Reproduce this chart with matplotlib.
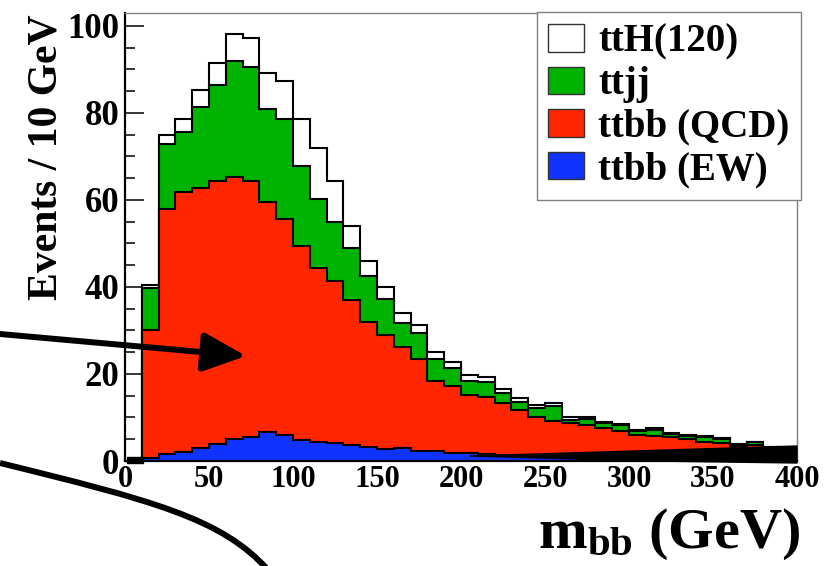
import matplotlib
matplotlib.use('Agg')
import matplotlib.pyplot as plt
import numpy as np
from matplotlib.patches import Patch, FancyArrowPatch, PathPatch, Polygon
from matplotlib.path import Path

plt.rcParams['font.family'] = ['Liberation Serif', 'DejaVu Serif']
plt.rcParams['font.weight'] = 'bold'
plt.rcParams['mathtext.fontset'] = 'custom'
plt.rcParams['mathtext.rm'] = 'Liberation Serif:bold'
plt.rcParams['mathtext.it'] = 'Liberation Serif:bold'
plt.rcParams['mathtext.bf'] = 'Liberation Serif:bold'

# m_bb bins, 10 GeV wide, from 10 to 400 GeV
bin_edges = np.arange(10, 401, 10)

# per-process contributions (events / 10 GeV)
ttbb_ew = [0.8, 1.6, 2.0, 3.1, 3.9, 5.0, 5.4, 6.6, 6.0, 4.8,
           4.4, 4.2, 3.7, 3.3, 2.7, 2.9, 2.3, 2.3, 1.8, 1.9,
           1.5, 1.4, 1.0, 0.9, 0.9, 0.7, 0.5, 0.6, 0.3, 0.3,
           0.3, 0.2, 0.2, 0.2, 0.2, 0.1, 0.1, 0.1, 0.1]
ttbb_qcd = [29.3, 56.4, 59.8, 59.7, 60.5, 60.3, 59.0, 52.8, 49.6, 44.7,
            39.9, 37.2, 33.2, 28.6, 26.3, 23.4, 21.1, 16.1, 15.5, 13.3,
            13.3, 11.9, 10.7, 9.1, 8.3, 8.1, 7.8, 6.9, 6.6, 5.7,
            5.4, 5.2, 4.8, 4.2, 4.0, 3.2, 3.5, 3.0, 2.5]
ttjj = [9.6, 14.9, 13.7, 18.5, 22.0, 26.5, 26.2, 21.5, 22.9, 18.2,
        15.9, 13.6, 12.0, 10.7, 8.2, 5.4, 6.0, 5.0, 4.1, 3.2,
        3.3, 2.4, 1.9, 2.1, 3.4, 0.6, 1.3, 1.2, 1.4, 0.9,
        1.4, 0.8, 0.8, 1.2, 0.8, 0.4, 0.7, 0.1, 0.2]
tth120 = [0.7, 2.0, 3.0, 4.0, 5.0, 6.3, 6.7, 8.2, 8.7, 10.8,
          11.7, 9.4, 5.0, 3.4, 2.7, 2.3, 1.9, 1.7, 1.4, 1.4,
          1.3, 0.8, 0.9, 0.8, 0.8, 0.6, 0.6, 0.3, 0.2, 0.2,
          0.4, 0.3, 0.2, 0.1, 0.2, 0.1, 0.1, 0.1, 0.1]

labels = ['ttH(120)', 'ttjj', 'ttbb (QCD)', 'ttbb (EW)']
colors = ['white', '#00b300', '#ff2600', '#1133ff']

W, H = 827, 566
fig = plt.figure(figsize=(W / 100, H / 100), dpi=100)


def fig_xy(x, y):
    # image pixel (y down) -> figure fraction
    return (x / W, 1 - y / H)


ax = fig.add_axes([125 / W, 1 - 461 / H, (797 - 125) / W, (461 - 12.7) / H])

# stacked histogram, drawn as cumulative layers from the top down
layers = [ttbb_ew, ttbb_qcd, ttjj, tth120]
cumulative = np.cumsum(np.array(layers), axis=0)
for i in range(len(layers) - 1, -1, -1):
    ax.stairs(cumulative[i], bin_edges, fill=True,
              facecolor=colors[len(layers) - 1 - i], edgecolor='black',
              linewidth=1.5, zorder=2 + (len(layers) - i))

ax.set_xlim(0, 400)
ax.set_ylim(0, 103)
ax.set_xticks(np.arange(0, 401, 50))
ax.set_xticks(np.arange(0, 401, 10), minor=True)
ax.set_yticks(np.arange(0, 101, 20))
ax.set_yticks(np.arange(0, 101, 5), minor=True)

ax.xaxis.set_tick_params(which='major', direction='in', length=9.5, width=1.1,
                         labelsize=22, pad=3)
ax.xaxis.set_tick_params(which='minor', direction='in', length=5, width=1.1)
ax.yaxis.set_tick_params(which='major', direction='in', length=13.5, width=1.1,
                         labelsize=25, pad=4)
ax.yaxis.set_tick_params(which='minor', direction='in', length=7, width=1.1)
for lab in ax.get_xticklabels() + ax.get_yticklabels():
    lab.set_fontweight('bold')

ax.spines['left'].set_linewidth(1.6)
ax.spines['bottom'].set_linewidth(1.6)
for s in ['top', 'right']:
    ax.spines[s].set_color('#808080')
    ax.spines[s].set_linewidth(1.0)
for s in ax.spines.values():
    s.set_zorder(10)

handles = [Patch(facecolor=c, edgecolor='#333333', linewidth=1.0) for c in colors]
leg = ax.legend(handles, labels, loc='upper right',
                bbox_to_anchor=fig_xy(801, 12), bbox_transform=fig.transFigure,
                prop={'family': 'Liberation Serif', 'weight': 'bold', 'size': 28},
                handlelength=0.92, handleheight=0.72, handletextpad=0.36,
                labelspacing=0.14, borderpad=0.3, borderaxespad=0,
                fancybox=False, framealpha=1, edgecolor='#808080')
leg.get_frame().set_linewidth(1.0)
leg.set_zorder(20)

# axis titles
fig.text(*fig_xy(47, 157), 'Events / 10 GeV', rotation=90, ha='center',
         va='center', fontsize=30, fontweight='bold')
fig.text(*fig_xy(800, 548), r'$\mathrm{m}_{\mathrm{bb}}$ (GeV)', ha='right',
         va='baseline', fontsize=42, fontweight='bold')

# slide annotations: arrow, curve and the dark band at the bottom right
arrow = FancyArrowPatch(fig_xy(0, 334), fig_xy(246, 356),
                        transform=fig.transFigure,
                        arrowstyle='-|>,head_length=2.2,head_width=1.0',
                        mutation_scale=12, linewidth=4.3, color='black',
                        shrinkA=0, shrinkB=0, zorder=30)
fig.add_artist(arrow)

curve_pts = [fig_xy(0, 463), fig_xy(150, 500), fig_xy(222, 518), fig_xy(268, 570)]
curve = PathPatch(Path(curve_pts, [Path.MOVETO, Path.CURVE4, Path.CURVE4, Path.CURVE4]),
                  transform=fig.transFigure, facecolor='none', edgecolor='black',
                  linewidth=4.3, zorder=30)
fig.add_artist(curve)

band = Polygon([fig_xy(470, 456), fig_xy(797, 446), fig_xy(797, 463), fig_xy(650, 461)],
               closed=True, transform=fig.transFigure, facecolor='black',
               edgecolor='black', zorder=30)
fig.add_artist(band)
corner = Polygon([fig_xy(127, 457), fig_xy(143, 457), fig_xy(143, 463), fig_xy(127, 463)],
                 closed=True, transform=fig.transFigure, facecolor='black',
                 edgecolor='black', zorder=30)
fig.add_artist(corner)

fig.savefig('out.png', dpi=100)
